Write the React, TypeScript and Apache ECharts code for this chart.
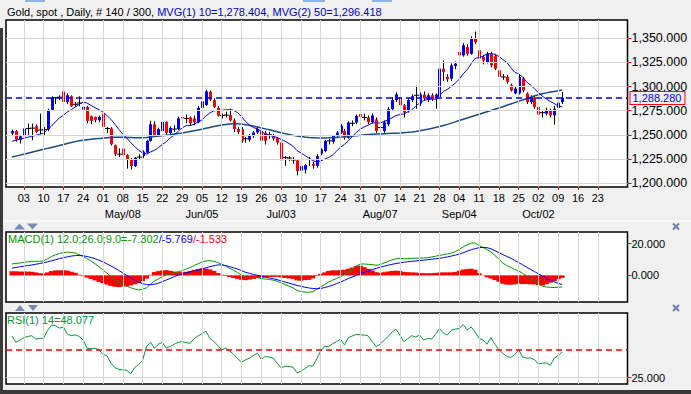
import React, { useEffect, useRef } from 'react';
import * as echarts from 'echarts';

const FONT = 'Arial, "Liberation Sans", sans-serif';

// calendar (weekday categories; first one is an empty lead slot)
const leadDate = '2017-03-28';
const categoryCount = 157;
const lastTickDate = '2017-10-23';
const monthLabelDates = ['2017-05-08', '2017-06-05', '2017-07-03', '2017-08-07', '2017-09-04', '2017-10-02'];
const monthLabels = ['May/08', 'Jun/05', 'Jul/03', 'Aug/07', 'Sep/04', 'Oct/02'];

const priceTicks = [1200, 1225, 1250, 1275, 1300, 1325, 1350];
const macdTicks = [0, 20];
const rsiTicks = [25];
const rsiLevel = 50;
const lastPrice = 1288.28;
const lastMacd = -7.302;
const lastRsi = 48.077;

// [open, close, low, high] for Mar 29 .. Oct 10 2017
const candles = [
  [1251.5, 1254, 1249.5, 1255.5], [1254, 1245, 1243, 1255], [1245, 1248.5, 1241, 1249.5], [1248.6, 1256.6, 1247, 1257],
  [1256.5, 1256.5, 1250, 1261.7], [1257, 1257, 1244.5, 1261.7], [1259, 1253, 1252, 1261], [1255, 1255, 1251, 1272],
  [1255.5, 1255.5, 1249.5, 1258], [1255.5, 1276, 1254, 1277], [1276, 1288.6, 1275, 1290], [1288.6, 1288.6, 1282, 1289.3],
  [1289, 1289, 1286, 1291], [1295, 1284, 1282, 1296], [1284, 1291, 1282, 1293], [1290, 1279.6, 1279, 1291],
  [1281.7, 1281.7, 1279, 1284], [1283, 1283, 1279.6, 1290], [1276.2, 1279, 1275, 1281], [1279, 1264.5, 1262, 1280],
  [1269.3, 1264.5, 1261, 1270], [1268.6, 1265.2, 1263, 1269], [1265.2, 1268.6, 1263, 1270], [1272, 1258.3, 1257, 1273],
  [1256.6, 1256.6, 1252, 1258.3], [1256.6, 1240.3, 1239, 1258], [1239.3, 1230, 1228, 1240], [1230, 1230, 1227, 1236],
  [1235.9, 1229, 1228, 1237], [1229, 1224.5, 1215, 1230], [1224.7, 1217.7, 1214, 1226], [1217.7, 1226.4, 1216.7, 1227],
  [1227, 1227, 1224.7, 1229.9], [1228, 1232.6, 1226, 1234], [1231.6, 1243.8, 1230, 1245], [1243.8, 1261, 1243, 1264.6],
  [1261, 1249, 1248, 1264], [1249, 1256, 1248, 1257.5], [1254, 1263.5, 1253, 1264.6], [1263.5, 1252, 1250, 1264],
  [1252, 1257, 1250, 1259], [1256, 1256, 1253, 1260], [1256, 1267, 1255, 1269], [1268.5, 1267, 1265, 1270],
  [1267, 1267, 1262, 1271], [1268, 1262, 1260, 1269], [1267, 1263, 1260, 1270], [1263, 1278, 1262, 1280],
  [1278, 1284.7, 1277, 1287], [1281, 1295, 1280, 1296.7], [1294.6, 1286.5, 1285, 1296], [1286, 1279, 1278, 1288],
  [1278, 1270, 1269, 1280], [1270, 1270, 1267, 1272], [1270.5, 1270.5, 1268, 1274], [1270.5, 1265, 1264, 1277],
  [1265, 1256, 1253, 1267], [1256, 1253, 1251, 1258], [1256, 1244, 1242, 1258], [1246, 1246, 1242, 1248],
  [1245, 1249, 1243, 1251], [1249, 1252.5, 1247, 1254], [1252.5, 1256, 1251, 1259], [1254, 1244, 1242, 1256],
  [1252, 1244, 1240, 1254], [1250, 1250, 1246, 1253], [1249, 1246, 1244, 1251], [1246.5, 1242, 1240, 1248],
  [1242, 1223.6, 1221, 1243], [1226.4, 1226.4, 1218, 1228], [1226, 1226, 1223, 1228], [1224, 1224, 1220, 1227],
  [1223.6, 1212.5, 1208, 1225], [1213, 1217.7, 1206, 1219], [1214, 1218.7, 1210, 1220], [1224.6, 1224.6, 1218, 1227],
  [1220, 1218, 1215, 1222], [1218, 1228, 1216, 1230], [1230.5, 1235, 1229, 1236], [1233.3, 1243.8, 1232, 1245],
  [1243.8, 1243.8, 1240, 1246], [1243, 1249, 1241, 1250], [1249, 1252.4, 1247, 1254], [1252.4, 1259.4, 1251, 1261],
  [1254, 1247, 1245, 1256], [1247, 1262.8, 1246, 1264], [1262, 1262, 1259, 1265], [1262.8, 1269.8, 1261, 1271],
  [1271.5, 1268.7, 1266, 1273], [1268, 1268, 1265, 1272], [1268, 1263, 1261, 1270], [1263, 1270, 1262, 1272],
  [1266, 1254, 1252, 1268], [1257.6, 1257.6, 1253, 1260], [1254, 1263, 1252, 1265], [1261, 1276.7, 1259, 1279],
  [1276.7, 1286, 1275, 1289], [1286, 1292, 1284, 1294], [1289, 1280.7, 1279, 1291], [1280.7, 1273, 1268, 1282],
  [1275.5, 1286, 1273, 1288], [1286, 1290, 1284, 1292], [1291, 1291, 1277, 1301], [1282.4, 1292, 1280, 1294],
  [1291.7, 1287.6, 1285, 1295], [1286, 1291, 1284, 1293], [1291, 1287, 1285, 1293], [1287.6, 1291.7, 1277, 1293],
  [1289.3, 1318.6, 1288, 1320], [1318.6, 1315.2, 1306, 1327], [1310, 1307.6, 1305, 1313], [1308.3, 1322, 1306, 1324],
  [1321.4, 1323.8, 1318, 1326], [1336, 1332.4, 1330, 1338], [1332.4, 1342.7, 1331, 1345], [1341, 1334, 1332, 1344],
  [1334, 1349.7, 1333, 1352], [1349.7, 1346, 1344, 1357], [1337.6, 1329, 1327, 1341], [1330.7, 1327, 1323, 1333],
  [1325.5, 1334, 1324, 1336], [1334, 1322, 1320, 1336], [1332, 1318.6, 1317, 1334], [1317, 1310, 1307, 1319],
  [1310, 1310, 1307, 1313], [1310, 1305, 1303, 1312], [1301.4, 1296, 1295, 1303], [1293, 1298, 1292, 1300],
  [1293, 1310, 1292, 1312], [1308.3, 1296, 1294, 1310], [1292.8, 1284, 1282, 1294], [1284, 1289, 1282, 1291],
  [1289, 1279, 1277, 1291], [1279, 1271, 1269, 1281], [1273, 1273, 1268, 1276], [1272, 1275.5, 1270, 1278],
  [1275.5, 1270.3, 1268, 1277], [1270.3, 1277, 1260.7, 1280], [1278, 1283.4, 1276, 1285], [1284, 1288.28, 1282, 1294.5],
];

// MA10 values before a full 10-bar window exists
const ma10Lead = [1243.4, 1244.5, 1245.5, 1246.5, 1247.5, 1248.5, 1249.5, 1250.5, 1252];

const ma50 = [
  1227, 1228, 1229, 1230, 1231, 1232, 1233, 1234, 1235, 1236, 1237, 1238, 1239, 1240, 1241, 1242, 1243, 1243.8, 1244.5, 1245,
  1245.5, 1246, 1246.3, 1246.6, 1246.9, 1247.2, 1247.5, 1247.6, 1247.6, 1247.4, 1247.2, 1247, 1247, 1247, 1247.3, 1247.7, 1248.2, 1248.7, 1249.2, 1249.7,
  1250.2, 1250.8, 1251.4, 1252, 1252.7, 1253.4, 1254.2, 1255, 1255.9, 1256.8, 1257.7, 1258.6, 1259.5, 1260.2, 1260.8, 1261.2, 1261.4, 1261.5, 1261.2, 1260.6,
  1259.9, 1259.1, 1258.2, 1257.2, 1256.2, 1255.2, 1254.2, 1253.2, 1252.2, 1251.3, 1250.4, 1249.6, 1248.9, 1248.3, 1247.8, 1247.4, 1247.1, 1246.9, 1246.8, 1246.8,
  1246.9, 1247.1, 1247.4, 1247.7, 1248, 1248.4, 1248.8, 1249.2, 1249.6, 1250, 1250.3, 1250.6, 1250.8, 1251, 1251.2, 1251.4, 1251.6, 1251.8, 1252, 1252.3,
  1252.6, 1253, 1253.5, 1254.2, 1255, 1255.8, 1256.7, 1257.6, 1258.6, 1259.7, 1260.9, 1262.2, 1263.5, 1264.8, 1266.1, 1267.4, 1268.7, 1270, 1271.3, 1272.6,
  1273.9, 1275.2, 1276.5, 1277.8, 1279.2, 1280.6, 1282, 1283.4, 1284.8, 1286.2, 1287.6, 1289, 1290.4, 1291.6, 1292.6, 1293.5, 1294.3, 1295, 1295.7, 1296.418,
];

const macdValues = [
  7.2, 7.6, 7.8, 8.2, 8.6, 8.9, 8.9, 8.9, 9.2, 10.5, 11.9, 13, 13.8, 14.4, 14.7, 14.5, 14.1, 13, 12, 10.5,
  9, 7.3, 5.5, 3.5, 1.5, -0.6, -2.6, -4.3, -5.5, -6.8, -7.8, -8.6, -9.2, -8.8, -7.8, -5.5, -3.5, -2.2, -0.8, 0.4,
  1, 1.6, 2.3, 3, 3.9, 5, 6.2, 7.3, 8.5, 9.1, 9.3, 8.9, 8.1, 7, 5.8, 4.5, 3.2, 1.8, 0.2, -1,
  -1.4, -1.6, -1.5, -2, -2.3, -2.6, -3, -3.6, -4.8, -5.8, -6.8, -7.8, -9.5, -10.2, -10.5, -10.7, -10.2, -8.8, -7.2, -5.8,
  -4.2, -3, -2, -0.8, 0.5, 2.2, 4, 5.9, 7.2, 7.2, 7, 6.8, 6.4, 6.8, 7.8, 8.8, 9.8, 10.5, 10.7, 10.5,
  10.6, 10.8, 10.9, 10.9, 11, 11.2, 11.6, 12.1, 12.6, 13.1, 13.6, 14.1, 15, 16.5, 18, 19.3, 20.4, 20.5, 18.9, 17.6,
  16.3, 14.8, 12.6, 10.4, 7.8, 6.2, 5, 3.8, 2.9, 1.2, -0.2, -1.8, -3.3, -5.2, -6.8, -7.3, -7.6, -7.7, -7.5, -7.302,
];

const signalValues = [
  4.6, 5, 5.4, 5.8, 6.2, 6.6, 7, 7.5, 8, 8.6, 9.2, 9.9, 10.6, 11.2, 11.7, 12.2, 12.5, 12.6, 12.4, 11.9,
  11.3, 10.5, 9.6, 8.5, 7.3, 6, 4.6, 3.1, 1.6, 0, -1.5, -3, -4.3, -5.2, -5.8, -5.9, -5.6, -4.9, -3.9, -2.9,
  -1.9, -0.8, 0.2, 1, 1.6, 2.2, 2.7, 3.3, 4, 4.8, 5.5, 6.1, 6.6, 6.6, 6.2, 5.5, 4.8, 4, 3, 2,
  1.3, 0.6, 0, -0.6, -1.1, -1.6, -2.1, -2.7, -3.5, -4.2, -4.9, -5.6, -6.3, -6.9, -7.5, -7.9, -8.3, -8.4, -8.2, -7.7,
  -7, -6.2, -5.2, -4.2, -3.1, -2, -1, 0, 1, 2, 2.9, 3.7, 4.4, 5.2, 5.8, 6.4, 7, 7.5, 7.9, 8.3,
  8.6, 8.9, 9.1, 9.4, 9.6, 9.9, 10.2, 10.5, 10.8, 11.2, 11.7, 12.2, 12.8, 13.5, 14.3, 15.3, 16.2, 16.9, 17.5, 17.7,
  17.5, 16.8, 15.6, 14.4, 13.1, 12, 10.9, 9.5, 8.1, 6.7, 5.2, 3.8, 2.4, 1, -0.4, -1.7, -3, -4.1, -5, -5.769,
];

const rsiValues = [
  62.4, 56.8, 58.8, 61, 62, 62.7, 59.7, 60.3, 60.5, 67.5, 72.1, 71.8, 69.5, 70.6, 64, 62.7, 63.5, 62, 58.8, 51.5,
  51, 51.5, 50, 46, 44.7, 38, 34, 32.3, 32, 31.7, 28.5, 34, 37, 40.5, 53, 56.8, 51.5, 55, 56.8, 51.5,
  53, 55, 56.8, 57.4, 56.5, 55.9, 60, 62.5, 64.5, 66.8, 60.3, 57.4, 54, 50, 51.5, 49, 46, 42, 39, 41,
  42.5, 45, 47, 41.5, 44, 43.5, 42.6, 38, 33.8, 35.3, 35, 34.4, 29.4, 30.8, 33, 35.8, 35.3, 42, 49, 53,
  53, 55.5, 57.4, 59.4, 54.4, 60.9, 62.5, 63.9, 63.5, 63.3, 62.5, 57.5, 53, 55, 58.5, 61.8, 66, 68.6, 63.3, 57.4,
  60, 62.7, 61.5, 63.3, 58.8, 60.3, 59.7, 64, 69.2, 65, 63.3, 67.7, 68.5, 69.2, 72.7, 68, 70.6, 66, 60.3, 58.8,
  55, 61, 55, 50, 47, 44, 43.2, 45.6, 50, 43.5, 42.6, 42.6, 41.2, 37.3, 38, 38.2, 36.1, 42.6, 45, 48.077,
];

const fmt3 = (v: number) =>
  v.toLocaleString('en-US', { minimumFractionDigits: 3, maximumFractionDigits: 3 });

function buildCategories(): string[] {
  const out: string[] = [];
  const d = new Date(leadDate + 'T00:00:00Z');
  while (out.length < categoryCount) {
    const wd = d.getUTCDay();
    if (wd !== 0 && wd !== 6) out.push(d.toISOString().slice(0, 10));
    d.setUTCDate(d.getUTCDate() + 1);
  }
  return out;
}

export default function App() {
  const ref = useRef<HTMLDivElement>(null);

  useEffect(() => {
    if (!ref.current) return;
    const chart = echarts.init(ref.current, undefined, { renderer: 'svg' });

    const cats = buildCategories();
    const isTick = (i: number) => {
      const c = cats[i];
      return !!c && new Date(c + 'T00:00:00Z').getUTCDay() === 1 && c <= lastTickDate;
    };
    const tickCats = cats.filter((_, i) => isTick(i));
    const closes = candles.map((c) => c[1]);
    const ma10 = closes.map((_, i) =>
      i < 9 ? ma10Lead[i] : closes.slice(i - 9, i + 1).reduce((a, b) => a + b, 0) / 10
    );
    const at = (arr: number[]) => arr.map((v, i) => [i + 1, v]);
    const hist = macdValues.map((v, i) => v - signalValues[i]);

    const gridStyle = {
      left: 6, right: 63.5, show: true, backgroundColor: '#ffffff', borderColor: '#000000', borderWidth: 1.5,
      containLabel: false, outerBoundsMode: 'none',
    };
    const vLines = tickCats.map((c) => ({ xAxis: c }));
    const gridSeries = (g: number, hValues: number[]) => ({
      type: 'line', xAxisIndex: g, yAxisIndex: g, data: [], z: 0, silent: true,
      markLine: {
        silent: true, symbol: ['none', 'none'], label: { show: false },
        lineStyle: { color: '#d7d7d7', type: 'solid', width: 1 },
        data: [...vLines, ...hValues.map((v) => ({ yAxis: v }))],
      },
    });
    const boxLabel = (text: string, padRight: number) => ({
      show: true, position: 'end', distance: 3, formatter: text, color: '#0000ff', fontSize: 11, fontFamily: FONT,
      borderColor: '#ff0000', borderWidth: 1, padding: [1, padRight, 0, 2], backgroundColor: '#f0f0f0', lineHeight: 11,
    });

    const xAxisBase = (g: number) => ({
      type: 'category', data: cats, gridIndex: g, boundaryGap: true,
      axisLine: { show: false }, splitLine: { show: false },
      axisTick: { show: false }, axisLabel: { show: false },
    });
    const yAxisBase = (g: number, min: number, max: number, ticks: number[], size: number) => ({
      type: 'value', gridIndex: g, position: 'right', min, max, scale: true,
      axisLine: { show: false }, splitLine: { show: false },
      axisTick: { show: true, customValues: ticks, length: 4, lineStyle: { color: '#ff0000', width: 1 } },
      axisLabel: { customValues: ticks, formatter: (v: number) => fmt3(v), color: '#000', fontSize: size, fontFamily: FONT, margin: 4 },
    });

    const option: any = {
      animation: false,
      backgroundColor: '#f0f0f0',
      grid: [
        { ...gridStyle, top: 20, height: 167 },
        { ...gridStyle, top: 232, height: 70 },
        { ...gridStyle, top: 313, height: 71 },
      ],
      xAxis: [
        {
          ...xAxisBase(0),
          axisTick: { show: true, alignWithLabel: true, interval: (i: number) => isTick(i), length: 3, lineStyle: { color: '#ff0000' } },
          axisLabel: {
            show: true, interval: (i: number) => isTick(i), color: '#000', fontSize: 11, fontFamily: FONT,
            margin: 3, lineHeight: 16,
            formatter: (v: string) => {
              const m = monthLabelDates.indexOf(v);
              const dd = v.slice(8, 10);
              return m >= 0 ? dd + '\n' + monthLabels[m] : dd;
            },
          },
        },
        xAxisBase(1),
        xAxisBase(2),
      ],
      yAxis: [
        yAxisBase(0, 1196, 1369, priceTicks, 12.5),
        yAxisBase(1, -16.8, 27.4, macdTicks, 11),
        yAxisBase(2, 19.3, 83.1, rsiTicks, 11),
      ],
      series: [
        gridSeries(0, priceTicks),
        gridSeries(1, []),
        gridSeries(2, rsiTicks),
        {
          type: 'custom', xAxisIndex: 0, yAxisIndex: 0, z: 2, clip: true,
          data: candles.map((c, i) => [i + 1, c[0], c[1], c[2], c[3]]),
          encode: { x: 0, y: [1, 2, 3, 4] },
          renderItem: (_p: any, api: any) => {
            const x = api.value(0);
            const o = api.value(1), c = api.value(2), l = api.value(3), h = api.value(4);
            const pH = api.coord([x, h]);
            const pL = api.coord([x, l]);
            const pO = api.coord([x, o]);
            const pC = api.coord([x, c]);
            const cx = Math.round(pH[0]) + 0.5;
            const children: any[] = [
              { type: 'line', shape: { x1: cx, y1: pH[1], x2: cx, y2: pL[1] }, style: { stroke: '#000', lineWidth: 1 } },
            ];
            if (o === c) {
              children.push({ type: 'line', shape: { x1: cx - 2.5, y1: pO[1], x2: cx + 2.5, y2: pO[1] }, style: { stroke: '#000', lineWidth: 1 } });
            } else {
              const top = Math.min(pO[1], pC[1]);
              const bot = Math.max(pO[1], pC[1]);
              children.push({
                type: 'rect', shape: { x: cx - 1.5, y: top, width: 3, height: Math.max(1, bot - top) },
                style: { fill: c > o ? '#0000ff' : '#ff0000' },
              });
            }
            return { type: 'group', children };
          },
        },
        {
          type: 'line', xAxisIndex: 0, yAxisIndex: 0, z: 3, data: at(ma50), showSymbol: false, silent: true,
          lineStyle: { color: '#1b4a8c', width: 1.5 },
        },
        {
          type: 'line', xAxisIndex: 0, yAxisIndex: 0, z: 3, data: at(ma10), showSymbol: false, silent: true,
          lineStyle: { color: '#0000ff', width: 1 },
        },
        {
          type: 'line', xAxisIndex: 0, yAxisIndex: 0, z: 4, data: [], silent: true,
          markLine: {
            silent: true, symbol: ['none', 'none'],
            data: [{ yAxis: lastPrice, lineStyle: { color: '#0000ff', type: [6, 4], width: 1.5 }, label: boxLabel(fmt3(lastPrice), 3) }],
          },
        },
        {
          type: 'bar', xAxisIndex: 1, yAxisIndex: 1, z: 2, data: at(hist), barWidth: 5, silent: true,
          itemStyle: { color: '#ff0000' },
        },
        {
          type: 'line', xAxisIndex: 1, yAxisIndex: 1, z: 3, data: at(macdValues), showSymbol: false, silent: true,
          lineStyle: { color: '#009900', width: 1 },
        },
        {
          type: 'line', xAxisIndex: 1, yAxisIndex: 1, z: 3, data: at(signalValues), showSymbol: false, silent: true,
          lineStyle: { color: '#0000ff', width: 1 },
          markLine: {
            silent: true, symbol: ['none', 'none'],
            data: [{ yAxis: lastMacd, lineStyle: { opacity: 0 }, label: boxLabel(fmt3(lastMacd), 18) }],
          },
        },
        {
          type: 'line', xAxisIndex: 2, yAxisIndex: 2, z: 3, data: at(rsiValues), showSymbol: false, silent: true,
          lineStyle: { color: '#009933', width: 1 },
          markLine: {
            silent: true, symbol: ['none', 'none'],
            data: [
              { yAxis: rsiLevel, lineStyle: { color: '#ff0000', type: [6, 4], width: 1.5 }, label: { show: false } },
              { yAxis: lastRsi, lineStyle: { opacity: 0 }, label: boxLabel(fmt3(lastRsi), 16) },
            ],
          },
        },
      ],
      graphic: [
        {
          type: 'text', left: 7, top: 6, z: 10, silent: true,
          style: {
            text: '{a|Gold, spot , Daily, # 140 / 300, }{b|MVG(1) 10=1,278.404, MVG(2) 50=1,296.418}',
            font: '11px ' + FONT,
            rich: { a: { fill: '#000000', fontSize: 11, fontFamily: FONT }, b: { fill: '#0000cc', fontSize: 11, fontFamily: FONT } },
          },
        },
        {
          type: 'text', left: 8, top: 233, z: 10, silent: true,
          style: {
            text: '{a|MACD(1) 12.0;26.0;9.0=-7.302}{b|/-5.769}{c|/-1.533}',
            font: '11px ' + FONT,
            rich: {
              a: { fill: '#009900', fontSize: 11, fontFamily: FONT },
              b: { fill: '#0000ff', fontSize: 11, fontFamily: FONT },
              c: { fill: '#ff0000', fontSize: 11, fontFamily: FONT },
            },
          },
        },
        {
          type: 'text', left: 7, top: 314, z: 10, silent: true,
          style: { text: 'RSI(1) 14=48.077', fill: '#009933', font: '11px ' + FONT },
        },
        { type: 'rect', shape: { x: 25, y: 0, width: 20, height: 2 }, style: { fill: '#8eb4e6' }, silent: true },
        { type: 'rect', shape: { x: 303, y: 0, width: 22, height: 2 }, style: { fill: '#8eb4e6' }, silent: true },
        { type: 'rect', shape: { x: 372, y: 0, width: 20, height: 2 }, style: { fill: '#8eb4e6' }, silent: true },
        { type: 'line', shape: { x1: 3, y1: 221, x2: 691, y2: 221 }, style: { stroke: '#ffffff', lineWidth: 1 }, silent: true },
        { type: 'polygon', shape: { points: [[14, 229.5], [25, 229.5], [19.5, 223.5]] }, style: { fill: '#7b8db6' }, silent: true },
        { type: 'polygon', shape: { points: [[27, 223.5], [38, 223.5], [32.5, 229.5]] }, style: { fill: '#7b8db6' }, silent: true },
        { type: 'polygon', shape: { points: [[15, 311], [25, 311], [20, 305]] }, style: { fill: '#7b8db6' }, silent: true },
        { type: 'polygon', shape: { points: [[28, 305], [38, 305], [33, 311]] }, style: { fill: '#7b8db6' }, silent: true },
        { type: 'line', shape: { x1: 673, y1: 223.5, x2: 679, y2: 229.5 }, style: { stroke: '#6d80aa', lineWidth: 2 }, silent: true },
        { type: 'line', shape: { x1: 679, y1: 223.5, x2: 673, y2: 229.5 }, style: { stroke: '#6d80aa', lineWidth: 2 }, silent: true },
        { type: 'line', shape: { x1: 673, y1: 305, x2: 679, y2: 311 }, style: { stroke: '#6d80aa', lineWidth: 2 }, silent: true },
        { type: 'line', shape: { x1: 679, y1: 305, x2: 673, y2: 311 }, style: { stroke: '#6d80aa', lineWidth: 2 }, silent: true },
        { type: 'rect', shape: { x: 0, y: 28, width: 3, height: 366 }, style: { fill: '#3a3a3a' }, silent: true },
        { type: 'rect', shape: { x: 0, y: 390, width: 691, height: 4 }, style: { fill: '#3a3a3a' }, silent: true },
      ],
    };

    chart.setOption(option);
    return () => chart.dispose();
  }, []);

  return (
    <div
      ref={ref}
      style={{ position: 'absolute', left: 0, top: 0, width: 691, height: 394 }}
    />
  );
}
